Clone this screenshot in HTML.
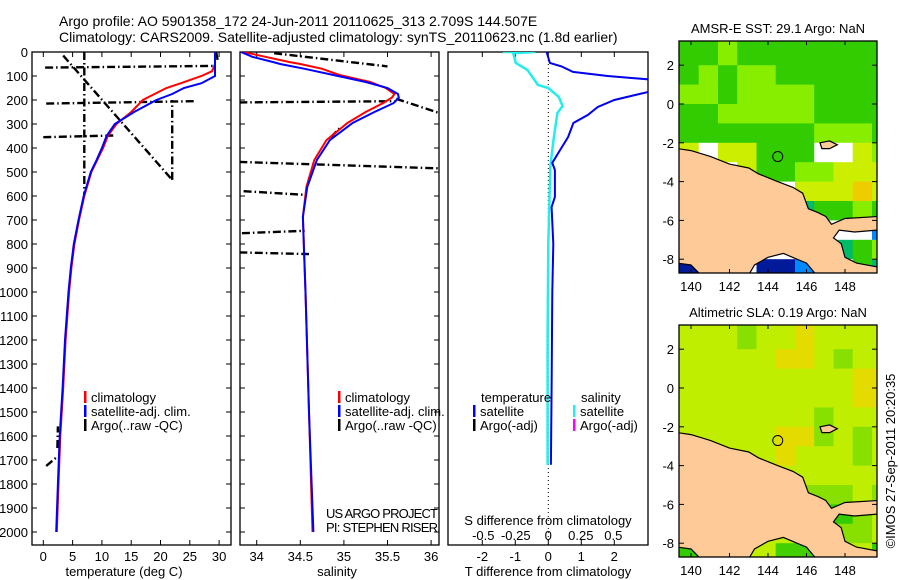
<!DOCTYPE html>
<html><head><meta charset="utf-8"><style>
html,body{margin:0;padding:0;background:#fff;width:900px;height:580px;overflow:hidden}
svg{display:block;font-family:"Liberation Sans","DejaVu Sans",sans-serif}
text{fill:#000}
</style></head><body>
<svg id="c" width="900" height="580" xmlns="http://www.w3.org/2000/svg">
<defs>
<clipPath id="cp1"><rect x="32" y="52" width="199" height="493"/></clipPath>
<clipPath id="cp2"><rect x="240" y="52" width="199" height="493"/></clipPath>
<clipPath id="cp3"><rect x="448" y="52" width="200" height="493"/></clipPath>
<clipPath id="cm1"><rect x="679" y="41" width="198" height="232"/></clipPath>
<clipPath id="cm2"><rect x="679" y="325" width="198" height="232"/></clipPath>
</defs>
<text x="59" y="26" font-size="14">Argo profile: AO 5901358_172 24-Jun-2011 20110625_313 2.709S 144.507E</text>
<text x="59" y="42" font-size="14">Climatology: CARS2009. Satellite-adjusted climatology: synTS_20110623.nc (1.8d earlier)</text>
<g id="g"></g>
</svg>
<script>
// ---------- data ----------
const depthTicks=[0,100,200,300,400,500,600,700,800,900,1000,1100,1200,1300,1400,1500,1600,1700,1800,1900,2000];
const tempTicks=[0,5,10,15,20,25,30];
const salTicks=[34,34.5,35,35.5,36];
const salTickLabels=["34","34.5","35","35.5","36"];
const dTTicks=[-2,-1,0,1,2];
const dSTicks=[-0.5,-0.25,0,0.25,0.5];
const dSTickLabels=["-0.5","-0.25","0","0.25","0.5"];
const profDepth=[0,50,80,100,130,150,175,200,250,300,350,400,450,500,600,700,800,900,1000,1200,1400,1600,1800,2000];
const tempClim=[29.3,29.3,28.8,27,23.5,21,19,17,15,12.5,11,10.2,9.2,8.2,7,6.1,5.3,4.8,4.4,3.8,3.4,2.9,2.6,2.3];
const tempSat=[29.3,29.3,29.3,29.3,27,24,22,19.3,15.5,12.2,10.8,10,9.1,8.1,6.9,6,5.2,4.7,4.3,3.7,3.3,2.8,2.5,2.2];
const salDepth=[0,20,42,50,70,96,125,150,175,190,213,250,296,367,450,562,687,800,1000,1500,2000];
const salClim=[33.85,34.1,34.38,34.5,34.75,34.95,35.3,35.48,35.58,35.55,35.45,35.25,35.04,34.8,34.66,34.57,34.53,34.54,34.56,34.6,34.64];
const salSat=[33.82,33.95,34.19,34.27,34.55,34.88,35.25,35.5,35.62,35.63,35.57,35.35,35.1,34.84,34.69,34.58,34.53,34.54,34.56,34.6,34.65];
const argoTempSegs=[
 [[0.3,65],[29.3,58]],[[3.4,15],[22,533]],[[7,0],[7,600]],[[22,533],[22,200]],
 [[0.5,215],[26,205]],[[0,355],[12,348]],[[29.5,0],[29.8,40]],[[0.5,1725],[2.2,1690]],[[2.4,1650],[2.5,1560]]];
const argoSalSegs=[
 [[34.2,5],[35.5,60]],[[33.8,210],[35.6,205]],[[35.6,195],[36.1,255]],[[33.8,458],[36.1,485]],
 [[33.85,580],[34.55,595]],[[33.83,755],[34.55,745]],[[33.8,835],[34.6,842]],[[34.85,355],[34.95,318]]];
const diffDepth=[0,46,60,83,100,116,154,200,229,262,296,354,408,462,492,604,646,800,1000,1400,1720];
const dTSat=[-0.05,0.05,0.4,0.75,1.8,3.2,3.4,2,1.5,1.2,0.76,0.6,0.36,0.12,0.2,0.2,0.1,0.15,0.12,0.1,0.08];
const dSDepth=[0,0,5,46,75,137,150,187,225,254,367,479,800,1200,1720];
const dSSat=[-0.35,-0.1,-0.27,-0.25,-0.16,-0.08,0,0.08,0.11,0.07,0.04,0.015,0,-0.005,-0.005];
const mapLons=[139,140,141,142,143,144,145,146,147,148,149];
const mapLats=[4,3,2,1,0,-1,-2,-3,-4,-5,-6,-7,-8];
const sstGrid=["GGLGGGGGGGG","GGLGGGGGGGG","GLGLLGGGGGG","LLGLLLLGGGG","GGLLLLLGGGG","GGGGGGGLLLG","YWYYGGGWWYL","WWWYGGLLYYY","WWWWWWYYYOY","WWWWWWTGGLG","WWWWWWWWWWC","WWWWWWWTTGL","BWWWBBCWWGT"];
const slaGrid=["aaagaayaaaa","aaagaayaaaa","aaaaayyagaa","aaaaaaaaayy","aaaaaaaaayy","aaaaaaagaaa","aaaaayygaga","aaaaayaaaga","aaaaaaaaaaa","aaaaaagggag","aaaaaaaGGga","aaaaaagggga","GaaaaBBgaaG"];
const sstColors={G:"#33cc00",L:"#88ee00",Y:"#ccee00",O:"#eecc00",W:"#ffffff",T:"#00bb66",B:"#001a99",C:"#0088ff"};
const slaColors={a:"#c0ee00",y:"#e4dc00",g:"#88e000",G:"#33cc00",B:"#44d000"};
const landPoly=[[139.3,-2.3],[140,-2.4],[141,-2.7],[142,-3.1],[143,-3.3],[143.5,-3.6],[144,-3.8],[144.5,-4.0],[145.3,-4.3],[145.8,-4.6],[146.1,-5.4],[146.6,-5.6],[147,-5.8],[147.3,-6.2],[148,-5.9],[149.7,-5.8],[149.7,-6.5],[148.5,-6.6],[147.7,-6.5],[147.4,-6.9],[147.8,-7.2],[148,-7.9],[148.6,-8.2],[149.7,-8.4],[149.7,-8.8],[146.5,-8.8],[146,-8.2],[145.5,-8.0],[144.8,-7.7],[144,-7.9],[143.3,-8.3],[143,-8.8],[140.5,-8.8],[140,-8.3],[139.3,-8.2]];
const islandPoly=[[146.7,-2.0],[147.2,-1.9],[147.6,-2.1],[147.2,-2.3],[146.8,-2.3]];
const argoPos=[144.507,-2.709];

// ---------- scales ----------
const yD=d=>52+d*0.24;
const xT=t=>43.3+t*5.86;
const xS=s=>256.7+(s-34)*87.2;
const xdT=v=>548.3+v*33;
const xdS=v=>548.3+v*130;
const lonX=l=>691+(l-140)*19.25;
const latY1=l=>104-l*19.4;
const latY2=l=>388-l*19.4;

const NS="http://www.w3.org/2000/svg";
const root=document.getElementById('g');
function mk(tag,attrs,parent){const e=document.createElementNS(NS,tag);for(const k in attrs)e.setAttribute(k,attrs[k]);(parent||root).appendChild(e);return e;}
function txt(x,y,s,size,anchor,parent){const e=mk('text',{x:x,y:y,'font-size':size||12,'text-anchor':anchor||'start'},parent);e.textContent=s;return e;}

// ---------- panel frames ----------
function frame(x0,x1,y0,y1,name){
 const r=mk('rect',{x:x0,y:y0,width:x1-x0,height:y1-y0,fill:'none',stroke:'#000','stroke-width':1.3});
 
 
}
frame(32,231,52,545,'temperature-panel');
frame(240,439,52,545,'salinity-panel');
frame(448,648,52,545,'difference-panel');

depthTicks.forEach(d=>{
 const y=yD(d);
 const t=txt(28,y+5,String(d),13,'end');
 
 
 [[32,37],[226,231],[240,245],[434,439]].forEach(p=>mk('line',{x1:p[0],x2:p[1],y1:y,y2:y,stroke:'#000'}));
});
tempTicks.forEach(v=>{
 const x=xT(v);
 mk('line',{x1:x,x2:x,y1:545,y2:540,stroke:'#000'});mk('line',{x1:x,x2:x,y1:52,y2:57,stroke:'#000'});
 const t=txt(x,561,String(v),13,'middle');
 
 
});
let ta=txt(124,576,'temperature (deg C)',13,'middle');


salTicks.forEach((v,i)=>{
 const x=xS(v);
 mk('line',{x1:x,x2:x,y1:545,y2:540,stroke:'#000'});mk('line',{x1:x,x2:x,y1:52,y2:57,stroke:'#000'});
 const t=txt(x,561,salTickLabels[i],13,'middle');
 
 
});
ta=txt(337,576,'salinity',13,'middle');


dTTicks.forEach(v=>{
 const x=xdT(v);
 mk('line',{x1:x,x2:x,y1:545,y2:540,stroke:'#000'});mk('line',{x1:x,x2:x,y1:52,y2:57,stroke:'#000'});
 const t=txt(x,561,String(v),13,'middle');
 
 
});
dSTicks.forEach((v,i)=>{
 const t=txt(xdS(v),540,dSTickLabels[i],13,'middle');
 
 
});
ta=txt(548,525,'S difference from climatology',13,'middle');


ta=txt(548,576,'T difference from climatology',13,'middle');



// ---------- series ----------
function line(xs,ys,xf,color,w,clip,name,dash){
 const pts=xs.map((v,i)=>xf(v).toFixed(1)+','+yD(ys[i]).toFixed(1)).join(' ');
 const p=mk('polyline',{points:pts,fill:'none',stroke:color,'stroke-width':w,'clip-path':'url(#'+clip+')'});
 if(dash)p.setAttribute('stroke-dasharray',dash);
 
 
}
argoTempSegs.forEach(seg=>{
 line(seg.map(p=>p[0]),seg.map(p=>p[1]),xT,'#000',2.4,'cp1','argo-temperature-segment','8 3 1.5 3');
});
argoSalSegs.forEach(seg=>{
 line(seg.map(p=>p[0]),seg.map(p=>p[1]),xS,'#000',2.4,'cp2','argo-salinity-segment','8 3 1.5 3');
});
line(tempClim,profDepth,xT,'#f00',2,'cp1','temperature-climatology-line');
line(tempSat,profDepth,xT,'#00f',2,'cp1','temperature-satellite-line');
line(salClim,salDepth,xS,'#f00',2,'cp2','salinity-climatology-line');
line(salSat,salDepth,xS,'#00f',2,'cp2','salinity-satellite-line');
const zl=mk('line',{x1:xdT(0),x2:xdT(0),y1:52,y2:545,stroke:'#000','stroke-dasharray':'1 3'});


line(dSSat,dSDepth,xdS,'#22eeee',2.5,'cp3','salinity-difference-line');
line(dTSat,diffDepth,xdT,'#0000ee',2,'cp3','temperature-difference-line');

// ---------- legends ----------
function leg(x,y,color,label,name){
 const m=mk('rect',{x:x,y:y-11,width:2.5,height:12,fill:color});
 
 
 const t=txt(x+7,y,label,13);
 
 
}
leg(84,402,'#f00','climatology','legend-climatology');
leg(84,416,'#00f','satellite-adj. clim.','legend-satellite');
leg(84,430,'#000','Argo(..raw -QC)','legend-argo');
leg(338,402,'#f00','climatology','legend-climatology-sal');
leg(338,416,'#00f','satellite-adj. clim.','legend-satellite-sal');
leg(338,430,'#000','Argo(..raw -QC)','legend-argo-sal');
ta=txt(481,402,'temperature',13);
ta=txt(581,402,'salinity',13);
leg(473,416,'#00f','satellite','legend-t-satellite');
leg(473,430,'#000','Argo(-adj)','legend-t-argo');
leg(573,416,'#22eeee','satellite','legend-s-satellite');
leg(573,430,'#ff00ff','Argo(-adj)','legend-s-argo');
ta=txt(326,518,'US ARGO PROJECT',13);ta.setAttribute('textLength','112');
ta=txt(326,532,'PI: STEPHEN RISER',13);ta.setAttribute('textLength','112');

// ---------- maps ----------
function drawMap(grid,colors,latY,clip,y0,y1,title,name){
 const g=mk('g',{'clip-path':'url(#'+clip+')'});
 
 
 grid.forEach((row,ri)=>{
  for(let ci=0;ci<row.length;ci++){
   const lon=mapLons[ci]+0.4,lat=mapLats[ri];
   const c=mk('rect',{x:lonX(lon).toFixed(1),y:latY(lat).toFixed(1),width:19.6,height:19.8,fill:colors[row[ci]]},g);
   
   
  }
 });
 const lp=mk('polygon',{points:landPoly.map(p=>lonX(p[0]).toFixed(1)+','+latY(p[1]).toFixed(1)).join(' '),fill:'#fdca98',stroke:'#000','stroke-width':1.2},g);
 
 
 const ip=mk('polygon',{points:islandPoly.map(p=>lonX(p[0]).toFixed(1)+','+latY(p[1]).toFixed(1)).join(' '),fill:'#fdca98',stroke:'#000','stroke-width':1.2},g);
 
 
 const ci=mk('circle',{cx:lonX(argoPos[0]),cy:latY(argoPos[1]),r:5,fill:'none',stroke:'#000','stroke-width':1},g);
 
 
 const fr=mk('rect',{x:679,y:y0,width:198,height:y1-y0,fill:'none',stroke:'#000','stroke-width':1.3});
 
 
 [2,0,-2,-4,-6,-8].forEach(l=>{
  const y=latY(l);
  mk('line',{x1:679,x2:684,y1:y,y2:y,stroke:'#000'});mk('line',{x1:872,x2:877,y1:y,y2:y,stroke:'#000'});
  const t=txt(674,y+5,String(l),13,'end');
  
  
 });
 [140,142,144,146,148].forEach(l=>{
  const x=lonX(l);
  mk('line',{x1:x,x2:x,y1:y0,y2:y0+4,stroke:'#000'});mk('line',{x1:x,x2:x,y1:y1-4,y2:y1,stroke:'#000'});
  const t=txt(x,y1+18,String(l),13,'middle');
  
  
 });
 const tt=txt(778,y0-8,title,13,'middle');
 
 
}
drawMap(sstGrid,sstColors,latY1,'cm1',41,273,'AMSR-E SST: 29.1 Argo: NaN','sst-map');
drawMap(slaGrid,slaColors,latY2,'cm2',325,557,'Altimetric SLA: 0.19 Argo: NaN','sla-map');
const cr=txt(0,0,'©IMOS 27-Sep-2011 20:20:35',13,'middle');
cr.setAttribute('transform','translate(895,461) rotate(-90)');


</script>
</body></html>
